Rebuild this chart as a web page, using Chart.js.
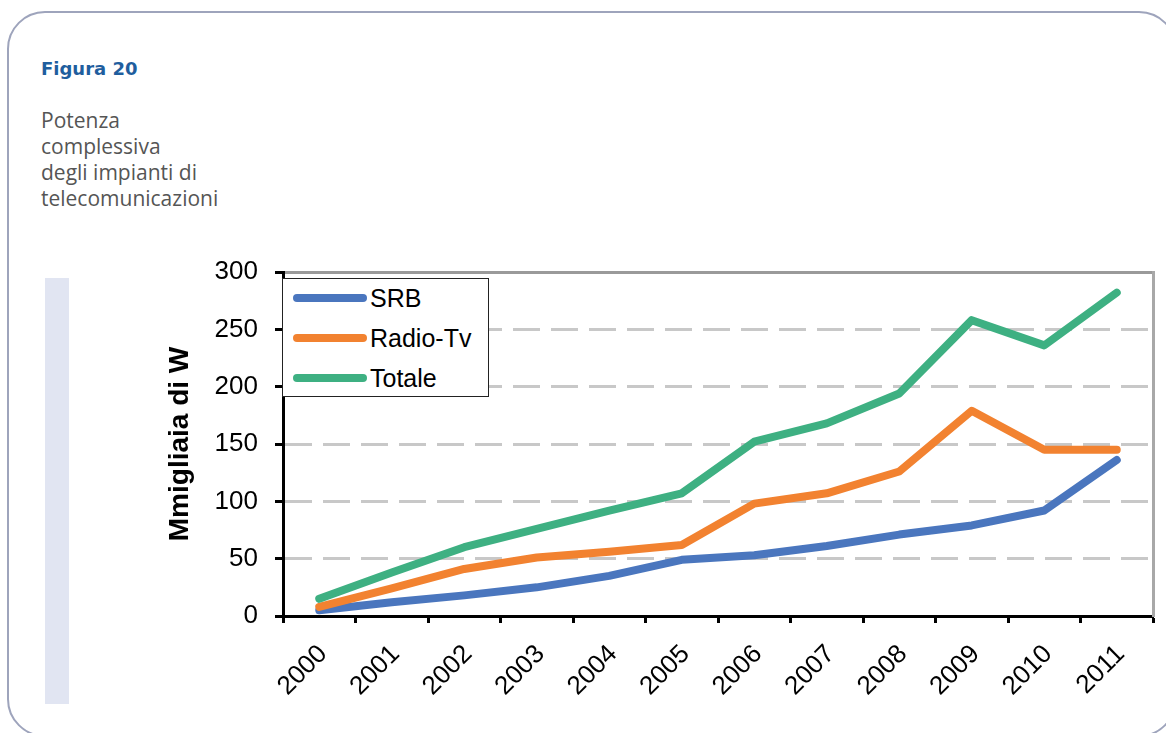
<!DOCTYPE html>
<html lang="it">
<head>
<meta charset="utf-8">
<title>Figura 20</title>
<script src="https://cdn.jsdelivr.net/npm/chart.js@4.4.1/dist/chart.umd.min.js"></script>
<style>
  html, body { margin: 0; padding: 0; background: #fff; overflow: hidden; }
  #page { position: relative; width: 1166px; height: 733px; }
  #frame {
    position: absolute; left: 7px; top: 11px; width: 1166px; height: 722px;
    border: 2px solid #9ea4bc; border-radius: 38px;
  }
  #sidebar { position: absolute; left: 45px; top: 278px; width: 24px; height: 426px; background: #e1e5f2; }
  #fig { position: absolute; left: 41px; top: 58px; font: bold 18px "DejaVu Sans", sans-serif; color: #1f5e9e; }
  #caption {
    position: absolute; left: 41px; top: 107px; font: 400 21px/26px "Open Sans", sans-serif; color: #555;
  }
  #chart { position: absolute; left: 0; top: 0; }
  #legendBox {
    position: absolute; left: 282px; top: 278px; width: 205px; height: 117px;
    background: #fff; border: 1.5px solid #222; z-index: 2;
  }
  #legendBox ul { list-style: none; margin: 0; padding: 0; }
  #legendBox li { position: absolute; left: 10px; display: flex; align-items: center; height: 30px; }
  #legendBox .swatch { display: inline-block; width: 74px; height: 8px; border-radius: 4px; margin-right: 3px; }
  #legendBox p { margin: 0; padding: 0; font: 25px "Liberation Sans", Arial, sans-serif; color: #000; }
</style>
</head>
<body>
<div id="page">
  <div id="frame"></div>
  <div id="sidebar"></div>
  <div id="fig">Figura 20</div>
  <div id="caption">Potenza<br>complessiva<br>degli impianti di<br>telecomunicazioni</div>
  <canvas id="chart" width="1166" height="733"></canvas>
  <div id="legendBox"></div>
</div>
<script>
const years = ["2000", "2001", "2002", "2003", "2004", "2005", "2006", "2007", "2008", "2009", "2010", "2011"];
const srb = [5, 12, 18, 25, 35, 49, 53, 61, 71, 79, 92, 136];
const radioTv = [8, 24, 41, 51, 56, 62, 98, 107, 126, 179, 145, 145];
const totale = [15, 38, 60, 76, 92, 107, 152, 168, 194, 258, 236, 282];
const yTicks = [0, 50, 100, 150, 200, 250, 300];

const axisFamily = "Liberation Sans, Arial, sans-serif";

const makeLine = (label, color, data, order) => ({
  label: label,
  data: data,
  borderColor: color,
  backgroundColor: color,
  borderWidth: 8,
  borderCapStyle: "round",
  borderJoinStyle: "round",
  pointRadius: 0,
  tension: 0,
  order: order,
});

// legend as html, rows placed by hand inside the framed box
const htmlLegendPlugin = {
  id: "htmlLegend",
  afterUpdate(chart, args, options) {
    const box = document.getElementById(options.containerID);
    let ul = box.querySelector("ul");
    if (!ul) {
      ul = document.createElement("ul");
      box.appendChild(ul);
    }
    while (ul.firstChild) ul.firstChild.remove();

    chart.data.datasets.forEach((ds, i) => {
      const li = document.createElement("li");
      li.style.top = 4 + i * 40 + "px";
      const swatch = document.createElement("span");
      swatch.className = "swatch";
      swatch.style.background = ds.borderColor;
      const text = document.createElement("p");
      text.textContent = ds.label;
      li.appendChild(swatch);
      li.appendChild(text);
      ul.appendChild(li);
    });
  },
};

const ctx = document.getElementById("chart").getContext("2d");
new Chart(ctx, {
  type: "line",
  data: {
    labels: years,
    datasets: [
      makeLine("SRB", "#4a76be", srb, 3),
      makeLine("Radio-Tv", "#f28230", radioTv, 2),
      makeLine("Totale", "#3eb082", totale, 1),
    ],
  },
  options: {
    responsive: false,
    maintainAspectRatio: false,
    devicePixelRatio: 1,
    animation: false,
    layout: { padding: { left: 163, top: 272, right: 13, bottom: 0 } },
    plugins: {
      legend: { display: false },
      tooltip: { enabled: false },
      htmlLegend: { containerID: "legendBox" },
    },
    scales: {
      x: {
        type: "category",
        offset: true,
        grid: {
          offset: true,
          drawOnChartArea: false,
          drawTicks: true,
          tickLength: 7,
          tickWidth: 3,
          tickColor: "#000",
        },
        border: { color: "#000", width: 3 },
        ticks: {
          color: "#000",
          font: { family: axisFamily, size: 26 },
          minRotation: 45,
          maxRotation: 45,
          autoSkip: false,
          padding: 16,
          labelOffset: 4,
        },
        afterFit(scale) {
          scale.height = 117;
        },
      },
      // top and right edges of the plot frame
      xTop: {
        type: "category",
        position: "top",
        grid: { display: false },
        ticks: { display: false },
        border: { color: "#9a9a9a", width: 3 },
        afterFit(scale) {
          scale.height = 0;
        },
      },
      yRight: {
        type: "linear",
        position: "right",
        min: 0,
        max: 300,
        grid: { display: false },
        ticks: { display: false },
        border: { color: "#a8a8a8", width: 3 },
        afterFit(scale) {
          scale.width = 0;
        },
      },
      y: {
        min: 0,
        max: 300,
        afterBuildTicks(scale) {
          scale.ticks = yTicks.map((v) => ({ value: v }));
        },
        grid: {
          color: (c) => (c.tick && c.tick.value > 0 && c.tick.value < 300 ? "#c8c8c8" : "rgba(0,0,0,0)"),
          lineWidth: 3,
          tickLength: 8,
          tickWidth: 3,
          tickColor: "#000",
          tickBorderDash: [],
        },
        border: { color: "#000", width: 3, dash: [27, 11] },
        ticks: { color: "#000", font: { family: axisFamily, size: 26 }, padding: 17 },
        title: {
          display: true,
          text: "Mmigliaia di W",
          color: "#000",
          font: { family: axisFamily, size: 28, weight: "bold" },
          padding: 0,
        },
        afterFit(scale) {
          scale.width = 120;
        },
      },
    },
  },
  plugins: [htmlLegendPlugin],
});
</script>
</body>
</html>
